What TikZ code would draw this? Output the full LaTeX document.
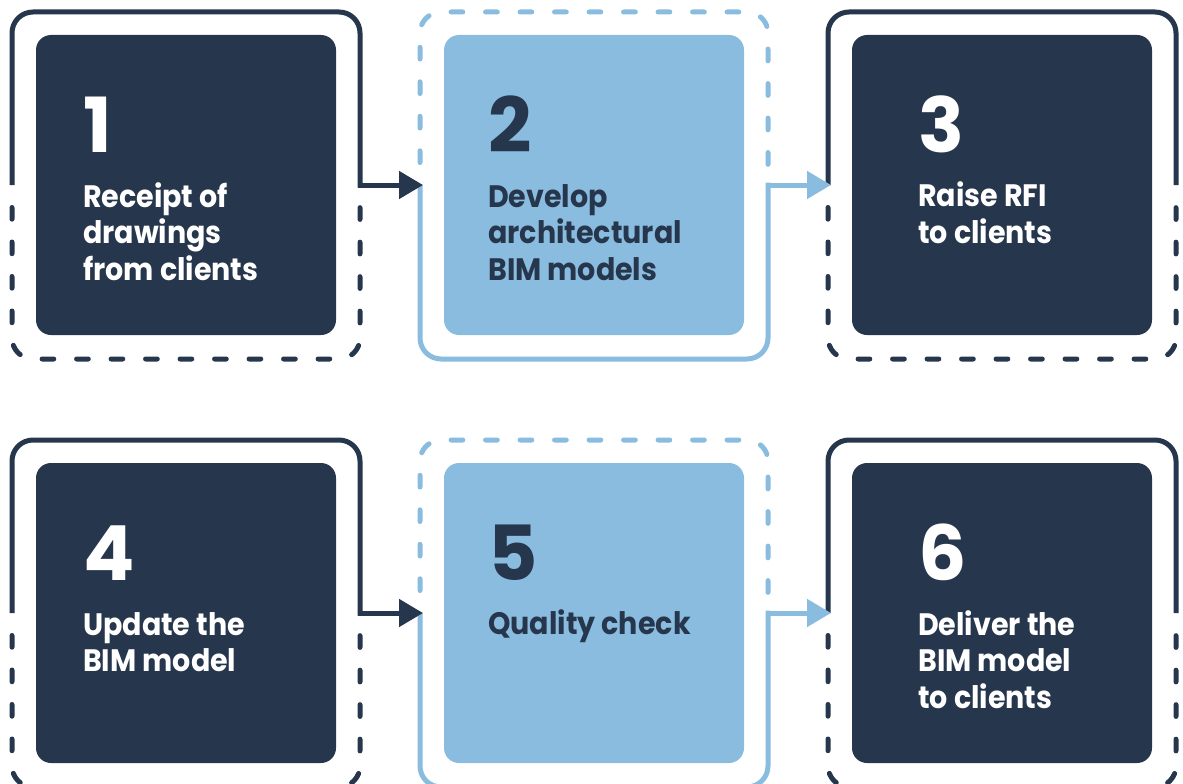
\documentclass[tikz,border=0pt]{standalone}
\usepackage{fontspec}
\setmainfont{Poppins}
\newfontfamily\labfont{Poppins}[FakeStretch=0.92]
\usetikzlibrary{arrows.meta}
\definecolor{navy}{RGB}{38,54,76}
\definecolor{lblue}{RGB}{138,188,223}
\tikzset{
  framesolid/.style={line width=5pt, rounded corners=21pt},
  framedash/.style={line width=5pt, rounded corners=21pt, line cap=round, dash pattern=on 11.7pt off 22.8pt, dash phase=12pt},
  innerbox/.style={minimum width=300pt, minimum height=300pt, rounded corners=15pt, inner sep=0pt, draw=none},
  numtext/.style={anchor=base west, inner sep=0pt, font=\fontsize{76}{76}\selectfont\bfseries},
  labtext/.style={anchor=base west, inner sep=0pt, align=left, font=\labfont\fontsize{31}{36.5}\selectfont\bfseries},
  flowarrow/.style={line width=5pt, -{Triangle[length=24pt,width=27pt]}},
}
\begin{document}
\begin{tikzpicture}[x=1pt,y=-1pt]
\useasboundingbox (0,0) rectangle (1183,784);
\clip (0,0) rectangle (1183,784);
% ---------- row 1 ----------
\node[innerbox, fill=navy] (b1) at (186,185) {};
\node[innerbox, fill=lblue] (b2) at (594,185) {};
\node[innerbox, fill=navy] (b3) at (1002,185) {};
\draw[framesolid, navy] (12,185) -- (12,12) -- (360,12) -- (360,187.5);
\draw[framedash, navy] (12,185) -- (12,359) -- (360,359) -- (360,185);
\draw[framesolid, lblue] (420,185) -- (420,359) -- (768,359) -- (768,182.5);
\draw[framedash, lblue] (420,185) -- (420,12) -- (768,12) -- (768,185);
\draw[framesolid, navy] (828,185) -- (828,12) -- (1176,12) -- (1176,185);
\draw[framedash, navy] (828,185) -- (828,359) -- (1176,359) -- (1176,185);
\coordinate (s1) at (357.5,185);
\coordinate (e1) at (423,185);
\coordinate (s2) at (765.5,185);
\coordinate (e2) at (831,185);
\draw[flowarrow, navy] (s1) -- (e1);
\draw[flowarrow, lblue] (s2) -- (e2);
\node[numtext, text=white] (n1) at (83,152) {1};
\node[labtext, text=white] (t1) at (83,280) {Receipt of\\drawings\\from clients};
\node[numtext, text=navy] (n2) at (488,152) {2};
\node[labtext, text=navy] (t2) at (488,280) {Develop\\architectural\\BIM models};
\node[numtext, text=white] (n3) at (918,152) {3};
\node[labtext, text=white] (t3) at (918,243) {Raise RFI\\to clients};
% ---------- row 2 ----------
\node[innerbox, fill=navy] (b4) at (186,613) {};
\node[innerbox, fill=lblue] (b5) at (594,613) {};
\node[innerbox, fill=navy] (b6) at (1002,613) {};
\draw[framesolid, navy] (12,613) -- (12,440) -- (360,440) -- (360,615.5);
\draw[framedash, navy] (12,613) -- (12,787) -- (360,787) -- (360,613);
\draw[framesolid, lblue] (420,613) -- (420,787) -- (768,787) -- (768,610.5);
\draw[framedash, lblue] (420,613) -- (420,440) -- (768,440) -- (768,613);
\draw[framesolid, navy] (828,613) -- (828,440) -- (1176,440) -- (1176,613);
\draw[framedash, navy] (828,613) -- (828,787) -- (1176,787) -- (1176,613);
\coordinate (s3) at (357.5,613);
\coordinate (e3) at (423,613);
\coordinate (s4) at (765.5,613);
\coordinate (e4) at (831,613);
\draw[flowarrow, navy] (s3) -- (e3);
\draw[flowarrow, lblue] (s4) -- (e4);
\node[numtext, text=white] (n4) at (83,580) {4};
\node[labtext, text=white] (t4) at (83,671.5) {Update the\\BIM model};
\node[numtext, text=navy] (n5) at (488,580) {5};
\node[labtext, text=navy] (t5) at (488,634) {Quality check};
\node[numtext, text=white] (n6) at (918,580) {6};
\node[labtext, text=white] (t6) at (918,708) {Deliver the\\BIM model\\to clients};
\end{tikzpicture}
\end{document}
